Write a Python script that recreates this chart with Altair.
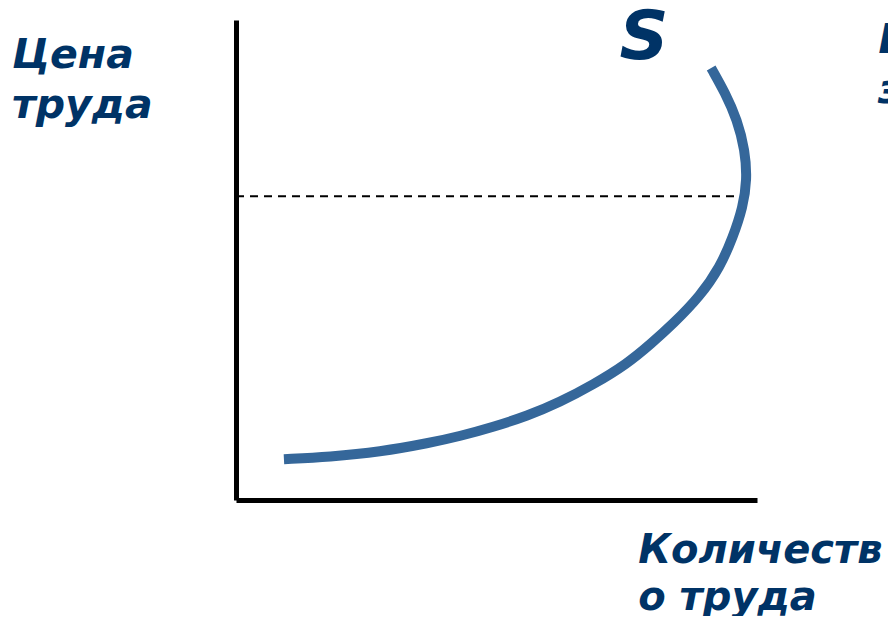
import altair as alt
import pandas as pd

# Supply curve S (quantity of labour vs price of labour), backward-bending
curve_q = [9.2, 18.0, 27.6, 37.2, 43.0, 49.3, 55.9, 62.2, 68.5, 75.0, 79.8, 83.9,
           89.1, 92.9, 95.4, 97.3, 98.1, 97.7, 96.2, 93.9, 91.2]
curve_p = [8.5, 9.0, 10.0, 11.9, 13.3, 15.2, 17.5, 20.4, 24.0, 28.3, 32.7, 36.7,
           42.5, 48.5, 54.8, 61.0, 66.7, 72.9, 79.2, 84.8, 90.0]

# Dashed price level
dash_q_start = [0.0]
dash_q_end = [97.9]
dash_p = [63.3]

# Text labels
label_text = ["Цена", "труда", "S", "Цена", "заработной", "Количеств", "о труда"]
label_q = [-43.0, -43.0, 73.6, 123.2, 123.2, 77.2, 77.2]
label_p = [90.0, 79.6, 91.9, 93.1, 82.7, -13.1, -22.9]
label_size = [41, 41, 68, 41, 41, 40, 40]

curve_df = pd.DataFrame({"q": curve_q, "p": curve_p, "i": list(range(len(curve_q)))})
dash_df = pd.DataFrame({"q": dash_q_start, "q2": dash_q_end, "p": dash_p})
label_df = pd.DataFrame({"t": label_text, "q": label_q, "p": label_p, "s": label_size})

xs = alt.Scale(domain=[0, 100], nice=False, zero=False)
ys = alt.Scale(domain=[0, 100], nice=False, zero=False)

axis_style = dict(domain=True, domainColor="black", domainWidth=5, ticks=False,
                  labels=False, grid=False, title=None)

base = alt.Chart(curve_df)

axes = base.mark_point(opacity=0).encode(
    x=alt.X("q:Q", scale=xs, axis=alt.Axis(**axis_style)),
    y=alt.Y("p:Q", scale=ys, axis=alt.Axis(**axis_style)),
)

curve = base.mark_line(color="#35679a", strokeWidth=10, strokeCap="butt",
                       interpolate="basis", clip=False).encode(
    x=alt.X("q:Q", scale=xs),
    y=alt.Y("p:Q", scale=ys),
    order="i:O",
)

dash = alt.Chart(dash_df).mark_rule(color="black", strokeWidth=2,
                                    strokeDash=[8, 6]).encode(
    x=alt.X("q:Q", scale=xs),
    x2="q2:Q",
    y=alt.Y("p:Q", scale=ys),
)

labels = alt.Chart(label_df).mark_text(
    align="left", baseline="alphabetic", font="DejaVu Sans",
    fontWeight="bold", fontStyle="italic", color="#003366", clip=False,
).encode(
    x=alt.X("q:Q", scale=xs),
    y=alt.Y("p:Q", scale=ys),
    text="t:N",
    size=alt.Size("s:Q", scale=None, legend=None),
)

chart = alt.layer(axes, dash, curve, labels).properties(
    width=521,
    height=480,
    autosize=alt.AutoSizeParams(type="none"),
    padding={"left": 228, "top": 12, "right": 131, "bottom": 116},
    background="white",
).configure_view(stroke=None)

chart.save("out.html", embed_options={"renderer": "svg", "actions": False})
